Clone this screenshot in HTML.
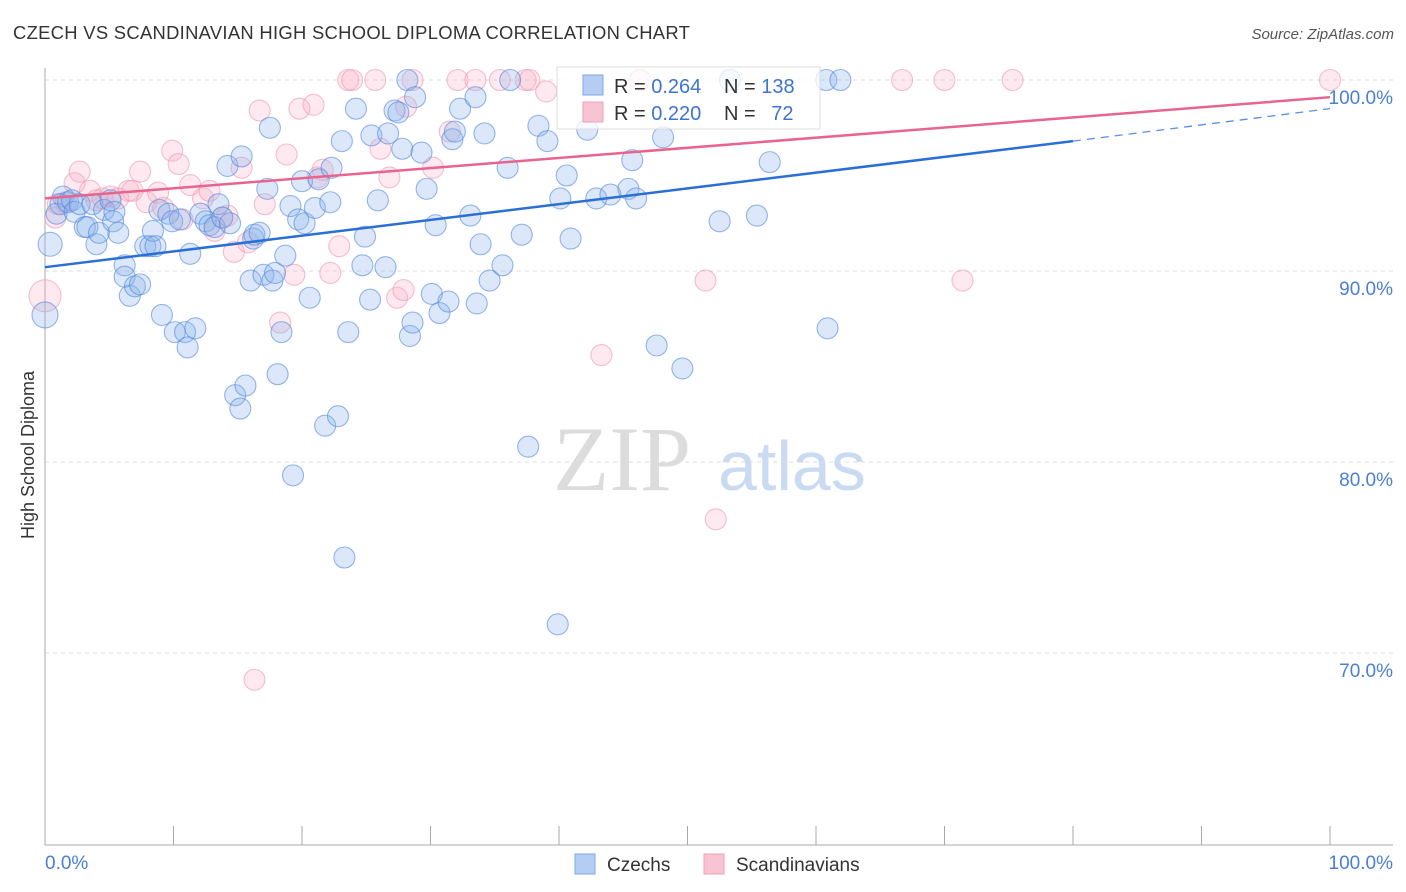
<!DOCTYPE html>
<html><head><meta charset="utf-8"><style>
body{margin:0;background:#fff;width:1406px;height:892px;overflow:hidden;font-family:"Liberation Sans",sans-serif}
svg{position:absolute;left:0;top:0}
</style></head><body>
<svg width="1406" height="892">
<text x="13" y="39" font-size="18.4" fill="#333" letter-spacing="0.3">CZECH VS SCANDINAVIAN HIGH SCHOOL DIPLOMA CORRELATION CHART</text>
<text x="1394" y="39" font-size="15" fill="#555" font-style="italic" text-anchor="end">Source: ZipAtlas.com</text>
<g>
<text x="553" y="490" font-size="92" font-family="Liberation Serif,serif" fill="#dcdcdc">ZIP</text>
<text x="718" y="490" font-size="70" fill="#c9daf2">atlas</text>
</g>
<g id="grid"></g>
<g id="yticks"></g>
<g id="xticks"></g>
<line x1="45" y1="68" x2="45" y2="845" stroke="#aaa"/>
<line x1="45" y1="845" x2="1393" y2="845" stroke="#aaa"/>
<text transform="translate(34,455) rotate(-90)" font-size="18" fill="#333" text-anchor="middle">High School Diploma</text>
<text x="45" y="869" font-size="19" fill="#4a7fd4">0.0%</text>
<text x="1393" y="869" font-size="19" fill="#4a7fd4" text-anchor="end">100.0%</text>
<g id="pts"></g>
<g id="lines"></g>
<g>
<rect x="557" y="67" width="263" height="62" fill="rgba(255,255,255,0.75)" stroke="#ddd"/>
<rect x="583" y="75" width="20" height="20" fill="#b5cdf3" stroke="#7ea6e6"/>
<rect x="583" y="102" width="20" height="20" fill="#f8c3d2" stroke="#f0a0b8"/>
<text x="614" y="93" font-size="20" fill="#333">R = <tspan fill="#3d74cf">0.264</tspan></text>
<text x="724" y="93" font-size="20" fill="#333">N = <tspan fill="#3d74cf">138</tspan></text>
<text x="614" y="120" font-size="20" fill="#333">R = <tspan fill="#3d74cf">0.220</tspan></text>
<text x="724" y="120" font-size="20" fill="#333">N = <tspan fill="#3d74cf" dx="10">72</tspan></text>
</g>
<g>
<rect x="575" y="854" width="20" height="20" fill="#b5cdf3" stroke="#7ea6e6"/>
<text x="607" y="871" font-size="19" fill="#333">Czechs</text>
<rect x="704" y="854" width="20" height="20" fill="#f8c3d2" stroke="#f0a0b8"/>
<text x="736" y="871" font-size="19" fill="#333">Scandinavians</text>
</g>
</svg>
<script>
const yTicks=[100,90,80,70];
const xTicks=[0,10,20,30,40,50,60,70,80,90,100];
const czX=[0,0.4,1.4,1.2,0.9,1.8,2.1,2.3,2.7,3.1,3.3,3.7,4.0,4.2,4.6,5.1,5.3,5.4,5.7,6.2,6.2,6.6,7.0,7.4,7.8,8.2,8.4,8.6,8.9,9.1,9.6,9.9,10.1,10.5,10.9,11.1,11.3,11.7,12.1,12.5,12.8,13.2,13.5,13.8,14.2,14.4,14.8,15.2,15.3,15.6,16.0,16.2,16.3,16.7,17.0,17.3,17.5,17.7,17.9,18.1,18.4,18.7,19.1,19.3,19.7,20.0,20.2,20.6,21.0,21.3,21.8,22.2,22.3,22.8,23.1,23.3,23.6,24.2,24.7,24.9,25.3,25.4,25.9,26.5,26.7,27.2,27.5,27.8,28.2,28.4,28.6,28.8,29.3,29.7,30.1,30.4,30.7,31.4,31.7,31.9,32.3,33.1,33.5,33.6,33.9,34.2,34.6,35.6,36.0,36.2,37.1,37.6,38.4,39.1,39.9,40.1,40.6,40.9,42.2,42.9,44.0,45.4,45.7,46.0,47.6,48.1,49.6,52.5,53.3,55.4,56.4,60.8,60.9,61.9];
const czY=[87.7,91.4,93.9,93.5,93.0,93.6,93.7,93.1,93.5,92.3,92.3,93.5,91.4,92.0,93.2,93.7,92.6,93.1,92.0,90.3,89.7,88.7,89.2,89.3,91.3,91.3,92.1,91.3,93.2,87.7,93.0,92.6,86.8,92.7,86.8,86.0,90.9,87.0,93.0,92.6,92.4,92.3,93.5,92.8,95.5,92.5,83.5,82.8,96.0,84.0,89.5,91.7,91.9,92.0,89.8,94.3,97.5,89.5,89.9,84.6,86.8,90.8,93.4,79.3,92.7,94.7,92.5,88.6,93.3,94.8,81.9,93.6,95.4,82.4,96.8,75.0,86.8,98.5,90.3,91.8,88.5,97.1,93.7,90.2,97.2,98.4,98.3,96.4,100,86.6,87.3,99.1,96.2,94.3,88.8,92.4,87.8,88.4,96.9,97.3,98.5,92.9,99.1,88.3,91.4,97.2,89.5,90.3,95.4,100,91.9,80.8,97.6,96.8,71.5,93.8,95.0,91.7,97.4,93.8,94.0,94.3,95.8,93.8,86.1,97.0,84.9,92.6,100,92.9,95.7,100,87.0,100];
const scX=[0,0.8,1.0,1.6,2.3,2.7,3.5,4.0,4.5,5.1,5.7,6.5,6.8,7.4,7.9,8.8,9.2,9.9,10.4,10.7,11.3,12.3,12.8,13.2,13.8,14.2,14.7,15.3,15.8,16.3,16.7,17.1,18.3,18.8,19.4,19.8,20.9,21.2,21.6,22.2,22.9,23.6,23.9,25.7,26.1,26.8,27.4,27.9,28.1,28.6,30.2,31.5,32.1,33.5,35.4,37.4,37.7,39.0,43.3,46.3,51.4,52.2,66.7,70.0,71.4,75.3,100];
const scY=[88.7,92.8,93.5,93.6,94.6,95.2,94.2,93.7,93.8,93.9,93.8,94.2,94.2,95.2,93.6,94.1,93.3,96.3,95.6,92.7,94.5,93.8,94.2,92.1,92.8,92.9,91.0,95.4,91.5,68.6,98.4,93.5,87.3,96.1,89.8,98.5,98.7,94.9,95.3,89.9,91.3,100,100,100,96.4,94.9,88.6,89.0,98.6,100,95.4,97.3,100,100,100,100,100,99.4,85.6,100,89.5,77.0,100,100,89.5,100,100];
const czLine=[[0,90.2],[80,96.8],[100,98.5]];
const scLine=[[0,93.8],[100,99.1]];
const X=v=>45+v*12.85, Y=v=>80+(100-v)*19.1;
const NS="http://www.w3.org/2000/svg";
function mk(t,a,p){const e=document.createElementNS(NS,t);for(const k in a)e.setAttribute(k,a[k]);p.appendChild(e);return e;}
const grid=document.getElementById('grid'),yt=document.getElementById('yticks'),xt=document.getElementById('xticks');
yTicks.forEach(v=>{
 const l=mk('line',{x1:45,x2:1393,y1:Y(v),y2:Y(v),stroke:'#ddd','stroke-dasharray':'4,4'},grid);
 
 
 const t=mk('text',{x:1393,y:Y(v)+24,'font-size':19,fill:'#4a7fd4','text-anchor':'end'},yt);
 t.textContent=v.toFixed(1)+'%';
 
 
});
xTicks.forEach(v=>{
 const l=mk('line',{x1:X(v),x2:X(v),y1:826,y2:845,stroke:'#aaa'},xt);
 
 
});
const pts=document.getElementById('pts');
function series(xs,ys,fill,stroke,name){
 xs.forEach((x,i)=>{
  const r=(x===0&&i===0)?(name==='czech-point'?13:16):(i===1&&name==='czech-point'?12:10.5);
  const c=mk('circle',{cx:X(x),cy:Y(ys[i]),r:r,fill:fill,stroke:stroke,'stroke-width':1.1},pts);
  
  
 });
}
series(scX,scY,'rgba(248,175,198,0.28)','rgba(238,150,178,0.6)','scandinavian-point');
series(czX,czY,'rgba(140,180,235,0.3)','rgba(80,135,220,0.6)','czech-point');
const lg=document.getElementById('lines');
let l1=mk('line',{x1:X(czLine[0][0]),y1:Y(czLine[0][1]),x2:X(czLine[1][0]),y2:Y(czLine[1][1]),stroke:'#2a6fd6','stroke-width':2.5},lg);


let l2=mk('line',{x1:X(czLine[1][0]),y1:Y(czLine[1][1]),x2:X(czLine[2][0]),y2:Y(czLine[2][1]),stroke:'#5b8fe0','stroke-width':1.3,'stroke-dasharray':'8,6'},lg);


let l3=mk('line',{x1:X(scLine[0][0]),y1:Y(scLine[0][1]),x2:X(scLine[1][0]),y2:Y(scLine[1][1]),stroke:'#e8648f','stroke-width':2.5},lg);


</script>
</body></html>
